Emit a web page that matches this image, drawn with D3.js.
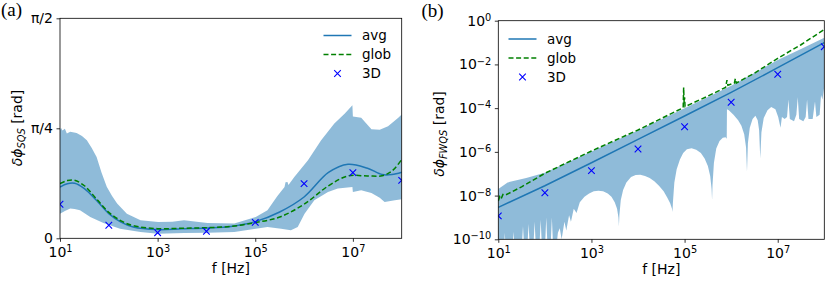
<!DOCTYPE html>
<html>
<head>
<meta charset="utf-8">
<script src="https://cdn.jsdelivr.net/npm/d3@7"></script>
<style>
    body { margin: 0; background: #fff; }
    text { font-family: "DejaVu Sans", sans-serif; }
</style>
</head>
<body>
<svg id="fig" width="830" height="281"></svg>
<script>
// all frequencies stored as log10(f [Hz])

// ---- panel (a), values in rad
var avgA = [[1, 0.366], [1.15, 0.39], [1.3, 0.393], [1.5, 0.355], [1.75, 0.27], [2, 0.176], [2.25, 0.115], [2.5, 0.08],
    [3, 0.062], [3.5, 0.068], [4, 0.074], [4.5, 0.085], [5, 0.119], [5.5, 0.188], [6, 0.295], [6.5, 0.47],
    [6.9, 0.529], [7.3, 0.50], [7.6, 0.455], [7.8, 0.455], [8, 0.472]];
var globA = [[1, 0.39], [1.15, 0.412], [1.3, 0.414], [1.5, 0.375], [1.75, 0.28], [2, 0.185], [2.25, 0.125], [2.5, 0.09],
    [3, 0.069], [3.5, 0.072], [4, 0.076], [4.5, 0.085], [5, 0.112], [5.5, 0.152], [6, 0.243], [6.5, 0.375],
    [6.9, 0.445], [7.3, 0.445], [7.6, 0.447], [7.8, 0.48], [8, 0.562]];
var pts3dA = [[1, 0.243], [2, 0.093], [3, 0.04], [4, 0.05], [5, 0.114], [6, 0.39], [7, 0.469], [8, 0.414]];
var bandAUpper = [[1.0, 0.771], [1.02, 0.79], [1.05, 0.77], [1.1, 0.783], [1.14, 0.748], [1.21, 0.76], [1.34, 0.752],
    [1.45, 0.73], [1.55, 0.70], [1.65, 0.645], [1.75, 0.581], [1.85, 0.47], [1.96, 0.367], [2.07, 0.30], [2.17, 0.248],
    [2.37, 0.176], [2.65, 0.129], [3.01, 0.117], [3.3, 0.118], [3.54, 0.129], [4.02, 0.110], [4.57, 0.105],
    [5.01, 0.152], [5.25, 0.20], [5.45, 0.30], [5.6, 0.367], [5.62, 0.40], [5.66, 0.402], [5.68, 0.38], [5.80, 0.438],
    [6.08, 0.557], [6.35, 0.700], [6.62, 0.819], [6.83, 0.890], [6.99, 0.95], [7.0, 0.869], [7.17, 0.86],
    [7.38, 0.779], [7.55, 0.775], [7.72, 0.80], [7.93, 0.86], [8.0, 0.884]];
var bandALower = [[1.0, 0.176], [1.1, 0.195], [1.21, 0.212], [1.3, 0.21], [1.41, 0.2], [1.62, 0.152], [1.89, 0.110],
    [2.23, 0.069], [2.65, 0.045], [3.01, 0.033], [3.54, 0.038], [4.02, 0.040], [4.57, 0.045], [5.01, 0.069],
    [5.25, 0.081], [5.53, 0.069], [5.73, 0.057], [5.87, 0.081], [6.01, 0.176], [6.21, 0.271], [6.49, 0.331],
    [6.69, 0.355], [6.99, 0.367], [7.0, 0.331], [7.17, 0.343], [7.38, 0.324], [7.55, 0.29], [7.65, 0.260],
    [7.86, 0.271], [8.0, 0.279]];

// ---- panel (b), values stored as log10(rad)
var avgB = [[1, -8.54], [2, -7.55], [3, -6.5], [4, -5.43], [5, -4.36], [6, -3.28], [7, -2.15], [8, -1.0]];
var globB = [[1, -8.25], [1.03, -8.05], [1.06, -8.15], [1.1, -7.95], [1.15, -7.98], [1.5, -7.6], [2, -6.98], [3, -5.96],
    [4, -5.0], [4.97, -3.98], [4.98, -3.05], [4.99, -3.75], [5.0, -3.5], [5.01, -3.93], [5.5, -3.45], [5.88, -3.05],
    [5.91, -2.72], [5.93, -2.95], [6.07, -2.85], [6.09, -2.65], [6.11, -2.85], [6.5, -2.4], [7, -1.72], [7.5, -1.1],
    [8, -0.4]];
var pts3dB = [[1, -8.93], [2, -7.87], [3, -6.86], [4, -5.87], [5, -4.85], [6, -3.73], [7, -2.45], [8, -1.19]];
var bandBUpper = [[1, -7.7], [1.2, -7.4], [1.6, -7.2], [2, -6.95], [3, -5.98], [4, -5.02], [5, -4.0], [6, -2.98],
    [7, -1.8], [7.5, -1.3], [8, -0.78]];
var bandBLower = [[1, -10.5], [1.12, -10.5], [1.14, -9.7], [1.16, -10.5], [1.3, -10.5], [1.33, -9.65], [1.35, -10.5],
    [1.5, -10.5], [1.53, -9.4], [1.56, -10.5], [1.62, -10.5], [1.65, -9.3], [1.68, -10.5], [1.75, -10.5],
    [1.78, -9.2], [1.81, -10.5], [1.88, -10.5], [1.91, -9.1], [1.94, -10.5], [2.0, -10.5], [2.03, -9.0],
    [2.06, -10.5], [2.12, -10.5], [2.15, -9.0], [2.18, -10.5], [2.24, -10.5], [2.28, -9.7], [2.32, -9.5],
    [2.36, -10.0], [2.42, -9.2], [2.46, -9.6], [2.52, -8.9], [2.56, -9.2], [2.62, -8.6], [2.68, -8.8], [2.75, -8.3],
    [2.85, -8.05], [2.95, -7.9], [3.05, -7.8], [3.15, -7.78], [3.25, -7.8], [3.35, -7.9], [3.43, -8.05], [3.5, -8.3],
    [3.55, -8.6], [3.58, -9.0], [3.59, -9.4],
    [3.6, -8.9], [3.63, -8.2], [3.68, -7.75], [3.75, -7.4], [3.85, -7.15], [3.95, -7.06], [4.05, -7.05],
    [4.15, -7.1], [4.25, -7.2], [4.35, -7.35], [4.45, -7.55], [4.55, -7.8], [4.63, -8.1], [4.69, -8.35],
    [4.73, -8.6], [4.74, -8.75],
    [4.75, -8.3], [4.78, -7.4], [4.83, -6.8], [4.9, -6.35], [4.97, -6.05], [5.05, -5.88], [5.15, -5.84],
    [5.25, -5.9], [5.35, -6.05], [5.43, -6.3], [5.5, -6.65], [5.55, -7.1], [5.58, -7.7], [5.59, -8.2],
    [5.6, -7.5], [5.63, -6.5], [5.68, -5.85], [5.75, -5.5], [5.82, -5.35], [5.88, -5.33], [5.905, -5.4],
    [5.91, -4.05], [5.95, -4.1], [6.05, -4.3], [6.15, -4.55], [6.22, -4.8], [6.28, -5.2], [6.32, -5.8], [6.34, -6.9],
    [6.36, -5.6], [6.4, -4.9], [6.46, -4.5], [6.52, -4.35], [6.57, -4.55], [6.6, -5.0], [6.625, -6.3],
    [6.65, -5.1], [6.7, -4.45], [6.78, -4.1], [6.86, -3.95], [6.95, -4.05], [7.01, -4.4], [7.06, -4.9],
    [7.09, -4.4], [7.15, -4.5], [7.2, -4.4], [7.23, -3.6], [7.26, -4.5], [7.35, -4.6], [7.4, -4.3], [7.43, -3.5],
    [7.46, -4.5], [7.55, -4.6], [7.6, -4.4], [7.63, -3.6], [7.66, -4.5], [7.75, -4.5], [7.8, -3.7], [7.83, -4.4],
    [7.9, -4.3], [7.93, -3.4], [7.96, -3.6], [8, -3.0]];

var xTickVals = [1e1, 1e3, 1e5, 1e7];
var yTickValsA = [0, Math.PI / 4, Math.PI / 2];
var yTickLabelsA = ["0", "\u03c0/4", "\u03c0/2"];
var yTickValsB = [1e0, 1e-2, 1e-4, 1e-6, 1e-8, 1e-10];

var AVG_COLOR = "#1f77b4";
var GLOB_COLOR = "#008000";
var MARK_COLOR = "#0000ff";
var FS = 14;
var LEG_FS = 13.5;

var svg = d3.select("#fig");

function supText(sel, base, exp) {
    sel.text(null);
    sel.append("tspan").text(base);
    sel.append("tspan").attr("dy", "-0.5em").attr("font-size", FS * 0.7).text(exp);
}

function expLabel(v) {
    var e = Math.round(Math.log10(v));
    return e < 0 ? "\u2212" + (-e) : "" + e;
}

function drawPanel(id, box, y, band, avg, glob, pts, yv, curve) {
    var x = d3.scaleLog().domain([10, 1e8]).range([box.l, box.r]);
    var g = svg.append("g").attr("id", id);
    g.append("clipPath").attr("id", id + "clip").append("rect")
        .attr("x", box.l).attr("y", box.t).attr("width", box.r - box.l).attr("height", box.b - box.t);
    var plot = g.append("g").attr("clip-path", "url(#" + id + "clip)");

    var fx = function (d) { return x(Math.pow(10, d[0])); };
    var fy = function (d) { return y(yv(d[1])); };

    // spread band as closed polygon: upper edge forward, lower edge back
    var poly = band.upper.concat(band.lower.slice().reverse());
    plot.append("path").attr("d", d3.line().x(fx).y(fy)(poly) + "Z")
        .attr("fill", AVG_COLOR).attr("fill-opacity", 0.5).attr("stroke", "none");

    plot.append("path").attr("d", d3.line().x(fx).y(fy).curve(curve)(avg))
        .attr("fill", "none").attr("stroke", AVG_COLOR).attr("stroke-width", 1.5);
    plot.append("path").attr("d", d3.line().x(fx).y(fy).curve(curve)(glob))
        .attr("fill", "none").attr("stroke", GLOB_COLOR).attr("stroke-width", 1.5).attr("stroke-dasharray", "5,2.6");

    var s = 3.3;
    plot.selectAll(".mk").data(pts).enter().append("path").attr("class", "mk")
        .attr("d", function (d) {
            var cx = fx(d), cy = fy(d);
            return "M" + (cx - s) + "," + (cy - s) + "L" + (cx + s) + "," + (cy + s) +
                "M" + (cx - s) + "," + (cy + s) + "L" + (cx + s) + "," + (cy - s);
        })
        .attr("stroke", MARK_COLOR).attr("stroke-width", 1.1).attr("fill", "none");

    // axes
    var xa = g.append("g").attr("transform", "translate(0," + box.b + ")")
        .call(d3.axisBottom(x).tickValues(xTickVals).tickSize(3.5).tickPadding(5));
    xa.select(".domain").remove();
    xa.selectAll(".tick text").attr("font-size", FS).attr("font-family", null)
        .each(function (d) { supText(d3.select(this), "10", expLabel(d)); });

    var ya = g.append("g").attr("transform", "translate(" + box.l + ",0)")
        .call(d3.axisLeft(y).tickValues(box.yTicks).tickSize(3.5).tickPadding(3.5));
    ya.select(".domain").remove();
    ya.selectAll(".tick text").attr("font-size", FS).attr("font-family", null);
    if (box.yLabels) {
        ya.selectAll(".tick text").text(function (d, i) { return box.yLabels[i]; });
    } else {
        ya.selectAll(".tick text").each(function (d) { supText(d3.select(this), "10", expLabel(d)); });
    }
    g.selectAll(".tick line").attr("stroke", "#000").attr("stroke-width", 0.8);

    g.append("rect").attr("x", box.l).attr("y", box.t).attr("width", box.r - box.l).attr("height", box.b - box.t)
        .attr("fill", "none").attr("stroke", "#000").attr("stroke-width", 0.8);

    // axis titles
    g.append("text").attr("x", (box.l + box.r) / 2).attr("y", box.b + 35).attr("text-anchor", "middle")
        .attr("font-size", FS).text("f [Hz]");
    var yl = g.append("text").attr("text-anchor", "middle").attr("font-size", FS)
        .attr("transform", "translate(" + box.ylx + "," + box.yly + ") rotate(-90)");
    yl.append("tspan").attr("font-style", "italic").text("\u03b4\u03d5");
    yl.append("tspan").attr("font-style", "italic").attr("font-size", FS * 0.7).attr("dy", 3).text(box.sub);
    yl.append("tspan").attr("dy", -3).text(" [rad]");

    // legend
    var lg = g.append("g");
    var lx = box.legX, ly = box.legY, dyRow = 19;
    lg.append("line").attr("x1", lx).attr("x2", lx + 28).attr("y1", ly).attr("y2", ly)
        .attr("stroke", AVG_COLOR).attr("stroke-width", 1.5);
    lg.append("line").attr("x1", lx).attr("x2", lx + 28).attr("y1", ly + dyRow).attr("y2", ly + dyRow)
        .attr("stroke", GLOB_COLOR).attr("stroke-width", 1.5).attr("stroke-dasharray", "5,2.6");
    var mx = lx + 14, my = ly + 2 * dyRow;
    lg.append("path").attr("d", "M" + (mx - s) + "," + (my - s) + "L" + (mx + s) + "," + (my + s) +
        "M" + (mx - s) + "," + (my + s) + "L" + (mx + s) + "," + (my - s))
        .attr("stroke", MARK_COLOR).attr("stroke-width", 1.1);
    ["avg", "glob", "3D"].forEach(function (t, i) {
        lg.append("text").attr("x", lx + 38.5).attr("y", ly + i * dyRow).attr("dy", "0.35em")
            .attr("font-size", LEG_FS).text(t);
    });

    g.append("text").attr("x", box.tagX).attr("y", box.tagY)
        .style("font-family", "'Liberation Serif', 'DejaVu Serif', serif")
        .attr("font-size", 19).text(box.tag);
}

var boxA = {l: 60, r: 401.7, t: 18.3, b: 238.3, yTicks: yTickValsA, yLabels: yTickLabelsA,
    ylx: 22, yly: 128, sub: "SQS", legX: 323.5, legY: 35.5, tag: "(a)", tagX: 1, tagY: 16};
var yA = d3.scaleLinear().domain([0, Math.PI / 2]).range([boxA.b, boxA.t]);
drawPanel("pa", boxA, yA, {upper: bandAUpper, lower: bandALower}, avgA, globA, pts3dA,
    function (v) { return v; }, d3.curveCatmullRom.alpha(0.5));

var boxB = {l: 498.3, r: 824.3, t: 20.7, b: 239.3, yTicks: yTickValsB, yLabels: null,
    ylx: 443.5, yly: 134, sub: "FWQS", legX: 508.5, legY: 39, tag: "(b)", tagX: 421.5, tagY: 17};
var yB = d3.scaleLog().domain([1e-10, 1]).range([boxB.b, boxB.t]);
drawPanel("pb", boxB, yB, {upper: bandBUpper, lower: bandBLower}, avgB, globB, pts3dB,
    function (v) { return Math.pow(10, v); }, d3.curveLinear);
</script>
</body>
</html>
